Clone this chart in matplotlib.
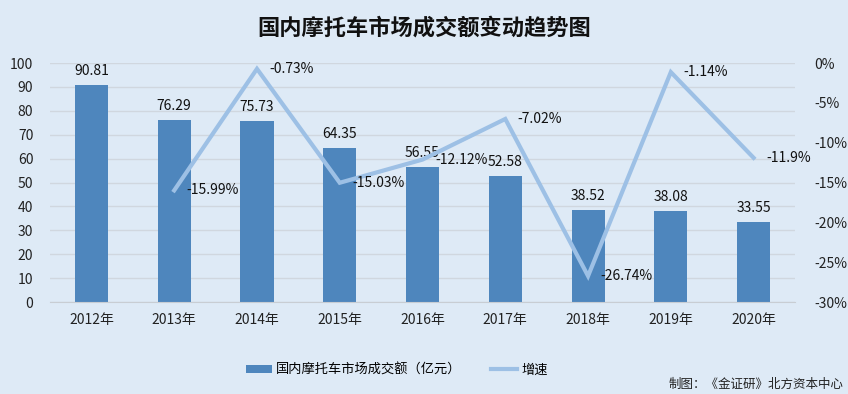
import matplotlib
matplotlib.use("Agg")
import matplotlib.pyplot as plt
from matplotlib.lines import Line2D
from matplotlib.patches import Patch

plt.rcParams['font.family'] = ['Noto Sans CJK SC', 'DejaVu Sans']

years = ['2012年', '2013年', '2014年', '2015年', '2016年', '2017年', '2018年', '2019年', '2020年']
amount = [90.81, 76.29, 75.73, 64.35, 56.55, 52.58, 38.52, 38.08, 33.55]
growth = [None, -15.99, -0.73, -15.03, -12.12, -7.02, -26.74, -1.14, -11.9]
growth_labels = ['', '-15.99%', '-0.73%', '-15.03%', '-12.12%', '-7.02%', '-26.74%', '-1.14%', '-11.9%']

bg = '#DEEAF6'
bar_color = '#4E86BD'
line_color = '#9DC0E5'

fig = plt.figure(figsize=(8.48, 3.94), dpi=100, facecolor=bg)
ax = fig.add_axes([0.059, 0.2335, 0.8785, 0.6065])
ax.set_facecolor(bg)
x = list(range(len(years)))
ax.bar(x, amount, width=0.4, color=bar_color, zorder=2)
ax.set_xlim(-0.5, len(years) - 0.5)
ax.set_ylim(0, 100)
ax.set_yticks(range(0, 101, 10))
ax.set_xticks(x)
ax.set_xticklabels(years)
ax.grid(axis='y', color='#D0D7DF', linewidth=1, zorder=0)
for s in ['top', 'right', 'left']:
    ax.spines[s].set_visible(False)
ax.spines['bottom'].set_color('#C8CDD3')
ax.tick_params(axis='both', length=0, labelsize=10, colors='#222222')
ax.tick_params(axis='x', pad=8)
ax.tick_params(axis='y', pad=12)
for xi, v in zip(x, amount):
    ax.text(xi, v + 3, f'{v:.2f}', ha='center', va='bottom', fontsize=10, color='#111111')

ax2 = ax.twinx()
ax2.set_ylim(-30, 0)
ax2.set_yticks(range(-30, 1, 5))
ax2.set_yticklabels([f'{t}%' for t in range(-30, 1, 5)])
for s in ['top', 'right', 'left', 'bottom']:
    ax2.spines[s].set_visible(False)
ax2.tick_params(axis='y', length=0, labelsize=10, colors='#222222', pad=14)
gx = [xi for xi, g in zip(x, growth) if g is not None]
gy = [g for g in growth if g is not None]
ax2.plot(gx, gy, color=line_color, linewidth=3, zorder=3, solid_joinstyle='miter')
for xi, g, lab in zip(x, growth, growth_labels):
    if g is None:
        continue
    ax2.annotate(lab, (xi, g), xytext=(9, 0), textcoords='offset points',
                 ha='left', va='center', fontsize=10, color='#111111')

fig.text(0.5, 0.93, '国内摩托车市场成交额变动趋势图', ha='center', va='center',
         fontsize=16, fontweight='bold', color='#111111')

handles = [Patch(facecolor=bar_color, edgecolor='none'),
           Line2D([0], [0], color=line_color, linewidth=3)]
fig.legend(handles, ['国内摩托车市场成交额（亿元）', '增速'], loc='center',
           bbox_to_anchor=(0.468, 0.06), ncol=2, frameon=False, fontsize=9.5,
           handlelength=2.0, handletextpad=0.3, columnspacing=2.2, handleheight=0.6)
fig.text(0.995, 0.025, '制图：《金证研》北方资本中心', ha='right', va='center',
         fontsize=9, color='#222222')

fig.savefig('out.png', dpi=100, facecolor=bg)
